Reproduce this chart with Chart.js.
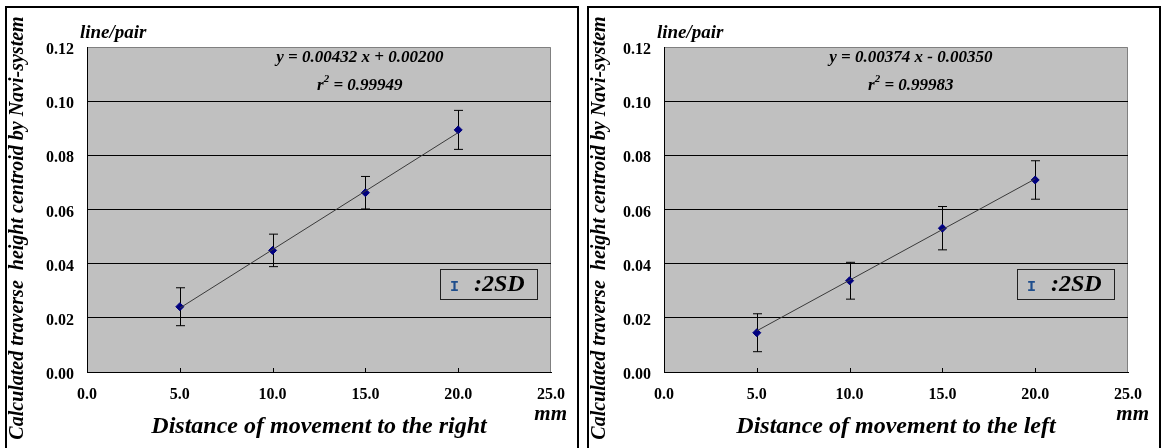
<!DOCTYPE html>
<html>
<head>
<meta charset="utf-8">
<script src="https://cdn.jsdelivr.net/npm/chart.js@4/dist/chart.umd.min.js"></script>
<style>
  body { margin: 0; background: #fff; width: 1161px; height: 448px; overflow: hidden; position: relative; }
  .frame { position: absolute; top: 6px; width: 570px; height: 460px; border: 2px solid #000; }
  canvas { position: absolute; left: 1px; top: 1px; }
</style>
</head>
<body>
<div class="frame" style="left:5px"><canvas id="chartRight" width="567" height="439"></canvas></div>
<div class="frame" style="left:587px"><canvas id="chartLeft" width="567" height="439"></canvas></div>
<script>
// distance of movement (mm)
const distances = [5, 10, 15, 20];
const xTicks = [0, 5, 10, 15, 20, 25];
const yTicks = [0, 0.02, 0.04, 0.06, 0.08, 0.10, 0.12];

// movement to the right
const rightMeans = [0.0241, 0.0449, 0.0662, 0.0894];
const rightSD2 = [0.0070, 0.0060, 0.0060, 0.0072];
const rightTrendX = [5, 20];
const rightTrendY = [0.0236, 0.0884];

// movement to the left
const leftMeans = [0.0145, 0.0337, 0.0531, 0.0709];
const leftSD2 = [0.0070, 0.0068, 0.0080, 0.0071];
const leftTrendX = [5, 20];
const leftTrendY = [0.0152, 0.0713];

const serif = "'Liberation Serif', 'Times New Roman', serif";

const plotBg = {
  id: 'plotBg',
  beforeDraw(chart) {
    const { ctx, chartArea: a } = chart;
    ctx.save();
    ctx.fillStyle = '#c0c0c0';
    ctx.fillRect(a.left, a.top, a.right - a.left, a.bottom - a.top);
    ctx.strokeStyle = '#808080';
    ctx.lineWidth = 1;
    ctx.beginPath();
    ctx.moveTo(a.left, a.top + 0.5);
    ctx.lineTo(a.right - 0.5, a.top + 0.5);
    ctx.lineTo(a.right - 0.5, a.bottom);
    ctx.stroke();
    ctx.restore();
  }
};

const errorBars = {
  id: 'errorBars',
  beforeDatasetsDraw(chart) {
    const { ctx, scales: { x, y } } = chart;
    const p = chart.options.plugins.errorBars;
    ctx.save();
    ctx.strokeStyle = '#000';
    ctx.lineWidth = 1;
    p.means.forEach((m, i) => {
      const px = Math.round(x.getPixelForValue(distances[i])) + 0.5;
      const top = y.getPixelForValue(m + p.sd[i]);
      const bot = y.getPixelForValue(m - p.sd[i]);
      ctx.beginPath();
      ctx.moveTo(px, top); ctx.lineTo(px, bot);
      ctx.moveTo(px - 4.5, top); ctx.lineTo(px + 4.5, top);
      ctx.moveTo(px - 4.5, bot); ctx.lineTo(px + 4.5, bot);
      ctx.stroke();
    });
    // inside tick marks on x axis
    xTicks.slice(1, -1).forEach(v => {
      const px = Math.round(x.getPixelForValue(v)) + 0.5;
      ctx.beginPath();
      ctx.moveTo(px, y.bottom); ctx.lineTo(px, y.bottom - 4);
      ctx.stroke();
    });
    ctx.restore();
  }
};

const texts = {
  id: 'texts',
  afterDraw(chart) {
    const { ctx, chartArea: a, scales: { x, y } } = chart;
    const p = chart.options.plugins.texts;
    ctx.save();
    ctx.fillStyle = '#000';
    ctx.textBaseline = 'middle';

    // y axis title
    ctx.save();
    ctx.translate(10, 219);
    ctx.rotate(-Math.PI / 2);
    ctx.textAlign = 'center';
    ctx.font = 'italic bold 20px ' + serif;
    ctx.fillText('Calculated traverse  height centroid by Navi-system', 0, 0);
    ctx.restore();

    ctx.font = 'italic bold 19px ' + serif;
    ctx.textAlign = 'left';
    ctx.fillText('line/pair', a.left - 7, 24);

    ctx.font = 'italic bold 21px ' + serif;
    ctx.textAlign = 'right';
    ctx.fillText('mm', Math.min(chart.width - 8, a.right + 23), 406);

    // regression text
    const big = 'italic bold 17px ' + serif;
    const sup = 'italic bold 11px ' + serif;
    const cx = x.getPixelForValue(p.eqX);
    ctx.font = big;
    ctx.textAlign = 'center';
    ctx.fillText(p.equation, cx, y.getPixelForValue(0.1159));
    const r2y = y.getPixelForValue(0.1059);
    const w1 = ctx.measureText('r').width;
    const rest = ' = ' + p.r2;
    const w3 = ctx.measureText(rest).width;
    ctx.font = sup;
    const w2 = ctx.measureText('2').width;
    const sx = cx - (w1 + w2 + w3) / 2;
    ctx.textAlign = 'left';
    ctx.font = big;
    ctx.fillText('r', sx, r2y);
    ctx.font = sup;
    ctx.fillText('2', sx + w1, r2y - 6);
    ctx.font = big;
    ctx.fillText(rest, sx + w1 + w2, r2y);

    // 2SD legend box
    const bx = a.right - 111, by = a.bottom - 103, bw = 97, bh = 30;
    ctx.strokeStyle = '#202020';
    ctx.lineWidth = 1;
    ctx.strokeRect(bx + 0.5, by + 0.5, bw, bh);
    ctx.fillStyle = '#1f4e8c';
    ctx.font = 'bold 15px "Liberation Mono", monospace';
    ctx.fillText('I', bx + 10, by + 18);
    ctx.fillStyle = '#000';
    ctx.font = 'italic bold 24px ' + serif;
    ctx.fillText(':2SD', bx + 34, by + 16);
    ctx.restore();
  }
};

function makeChart(id, means, sd, trendX, trendY, title, equation, r2, eqX, pad) {
  new Chart(document.getElementById(id), {
    type: 'scatter',
    data: {
      datasets: [
        {
          data: trendX.map((v, i) => ({ x: v, y: trendY[i] })),
          showLine: true,
          borderColor: '#3a3a3a',
          borderWidth: 1,
          pointRadius: 0
        },
        {
          data: distances.map((v, i) => ({ x: v, y: means[i] })),
          pointStyle: 'rectRot',
          pointRadius: 4,
          backgroundColor: '#000080',
          borderColor: '#000080',
          borderWidth: 1
        }
      ]
    },
    options: {
      responsive: false,
      animation: false,
      layout: { padding: { top: 38, right: pad.right, left: 0, bottom: 0 } },
      plugins: {
        legend: { display: false },
        tooltip: { enabled: false },
        errorBars: { means: means, sd: sd },
        texts: { equation: equation, r2: r2, eqX: eqX }
      },
      scales: {
        x: {
          type: 'linear', min: 0, max: 25,
          afterBuildTicks: s => { s.ticks = xTicks.map(v => ({ value: v })); },
          afterFit: s => { s.height = 76; },
          grid: { display: false },
          border: { color: '#000', width: 1 },
          ticks: {
            padding: 5,
            color: '#000',
            font: { family: serif, weight: 'bold', size: 16 },
            callback: v => Number(v).toFixed(1)
          },
          title: {
            display: true, text: title, color: '#000',
            font: { family: serif, weight: 'bold', style: 'italic', size: 24 },
            padding: { top: 0, bottom: 7 }
          }
        },
        y: {
          type: 'linear', min: 0, max: 0.12,
          afterBuildTicks: s => { s.ticks = yTicks.map(v => ({ value: v })); },
          afterFit: s => { s.width = pad.left; },
          grid: {
            color: c => (c.tick && c.tick.value >= 0.119) ? 'rgba(0,0,0,0)' : '#000',
            lineWidth: 1,
            drawTicks: false
          },
          border: { color: '#000', width: 1 },
          ticks: {
            padding: 13,
            labelOffset: 3,
            color: '#000',
            font: { family: serif, weight: 'bold', size: 16 },
            callback: v => Number(v).toFixed(2)
          }
        }
      }
    },
    plugins: [plotBg, errorBars, texts]
  });
}

makeChart('chartRight', rightMeans, rightSD2, rightTrendX, rightTrendY,
  'Distance of movement to the right', 'y = 0.00432 x + 0.00200', '0.99949', 14.7,
  { left: 79, right: 24 });
makeChart('chartLeft', leftMeans, leftSD2, leftTrendX, leftTrendY,
  'Distance of movement to the left', 'y = 0.00374 x - 0.00350', '0.99983', 13.3,
  { left: 74, right: 29 });
</script>
</body>
</html>
